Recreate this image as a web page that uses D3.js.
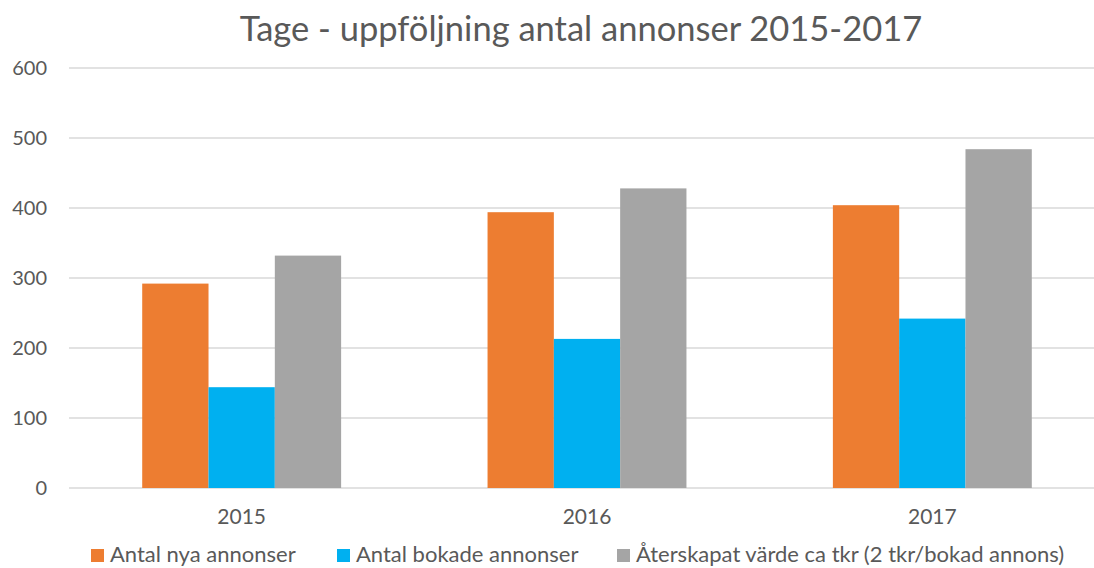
<!DOCTYPE html>
<html>
<head>
<meta charset="utf-8">
<script src="https://cdn.jsdelivr.net/npm/d3@7"></script>
<style>
  body { margin: 0; background: #fff; }
  text { font-family: Lato, "Open Sans", sans-serif; fill: #595959; }
</style>
</head>
<body>
<script>
'use strict';

// chart data
let years = ["2015", "2016", "2017"];
let seriesNames = ["Antal nya annonser", "Antal bokade annonser", "Återskapat värde ca tkr (2 tkr/bokad annons)"];
let nyaAnnonser = [292, 394, 404];
let bokadeAnnonser = [144, 213, 242];
let aterskapatVarde = [332, 428, 484];
let yTicks = [0, 100, 200, 300, 400, 500, 600];
let colors = ["#ED7D31", "#00B0F0", "#A5A5A5"];

(function() {
  let width = 1094, height = 568;

  let svg = d3.select('body')
    .append('svg')
    .attr('width', width)
    .attr('height', height);

  let allSeries = [nyaAnnonser, bokadeAnnonser, aterskapatVarde];

  // scales
  let yScale = d3.scaleLinear()
    .domain([0, 600])
    .range([488, 68]);

  let xScale = d3.scaleBand()
    .domain(years)
    .range([69, 1105])
    .paddingInner(0.424)
    .paddingOuter(0.212);

  let xSub = d3.scaleBand()
    .domain(d3.range(seriesNames.length))
    .range([0, xScale.bandwidth()]);

  // gridlines
  svg.append('g')
    .selectAll('line')
    .data(yTicks)
    .enter()
    .append('line')
      .attr('x1', 69)
      .attr('x2', width)
      .attr('y1', (d) => yScale(d))
      .attr('y2', (d) => yScale(d))
      .attr('stroke', '#D9D9D9')
      .attr('stroke-width', 1.5);

  // y axis labels
  let yAxis = d3.axisLeft(yScale).tickValues(yTicks).tickSize(0).tickPadding(0);
  let yG = svg.append('g')
    .attr('transform', 'translate(47, 0)')
    .call(yAxis);
  yG.select('.domain').remove();
  yG.selectAll('text')
    .attr('fill', '#595959')
    .style('font-size', '20px')
    .style('font-family', 'Lato, sans-serif');

  // bars
  let groups = svg.append('g')
    .selectAll('g')
    .data(years)
    .enter()
    .append('g')
      .attr('transform', (d) => 'translate(' + xScale(d) + ', 0)');

  groups.selectAll('rect')
    .data((d, i) => allSeries.map((s, k) => ({ k: k, v: s[i] })))
    .enter()
    .append('rect')
      .attr('x', (d) => xSub(d.k))
      .attr('width', xSub.bandwidth())
      .attr('y', (d) => yScale(d.v))
      .attr('height', (d) => yScale(0) - yScale(d.v))
      .attr('fill', (d) => colors[d.k]);

  // x axis labels
  let xAxis = d3.axisBottom(xScale).tickSize(0).tickPadding(0);
  let xG = svg.append('g')
    .attr('transform', 'translate(0, 507)')
    .call(xAxis);
  xG.select('.domain').remove();
  xG.selectAll('text')
    .attr('fill', '#595959')
    .attr('dy', '0.8em')
    .style('font-size', '21px')
    .style('font-family', 'Lato, sans-serif');

  // title
  svg.append('text')
    .attr('x', 581)
    .attr('y', 41)
    .attr('text-anchor', 'middle')
    .style('font-size', '34.5px')
    .text('Tage - uppföljning antal annonser 2015-2017');

  // legend
  let legendX = [91, 337, 617];
  let legend = svg.append('g')
    .selectAll('g')
    .data(seriesNames)
    .enter()
    .append('g')
      .attr('transform', (d, i) => 'translate(' + legendX[i] + ', 549)');

  legend.append('rect')
    .attr('width', 13)
    .attr('height', 13)
    .attr('fill', (d, i) => colors[i]);

  legend.append('text')
    .attr('x', 19)
    .attr('y', 13)
    .style('font-size', '22px')
    .text((d) => d);
})();
</script>
</body>
</html>
